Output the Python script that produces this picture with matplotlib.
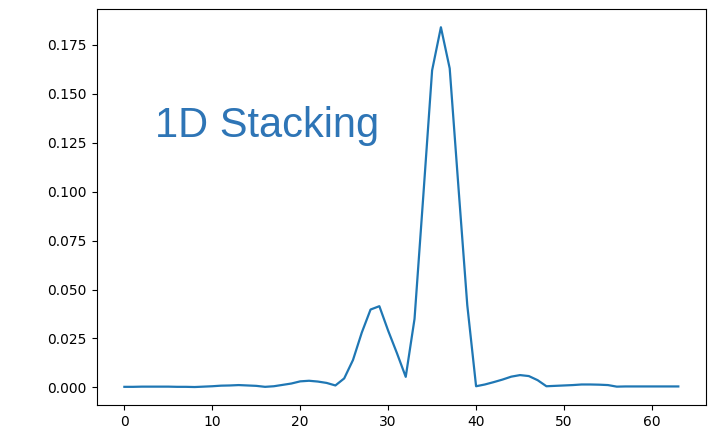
import numpy as np
import matplotlib.pyplot as plt

# signal, one value per index 0..63
x = np.arange(64)
y = [0.0003, 0.0003, 0.0004, 0.0004, 0.0004, 0.0004, 0.0003, 0.0003,
     0.0002, 0.0004, 0.0006, 0.0009, 0.0010, 0.0012, 0.0010, 0.0008,
     0.0003, 0.0006, 0.0013, 0.0020, 0.0031, 0.0034, 0.0030, 0.0023,
     0.0010, 0.0046, 0.0140, 0.0280, 0.0398, 0.0415, 0.0290, 0.0175,
     0.0054, 0.0350, 0.0980, 0.1620, 0.1840, 0.1630, 0.1020, 0.0420,
     0.0006, 0.0015, 0.0027, 0.0040, 0.0055, 0.0063, 0.0058, 0.0037,
     0.0006, 0.0008, 0.0010, 0.0012, 0.0015, 0.0015, 0.0014, 0.0012,
     0.0004, 0.0005, 0.0005, 0.0005, 0.0005, 0.0005, 0.0005, 0.0005]
label = "1D Stacking"

fig = plt.figure(figsize=(7.14, 4.38), dpi=100)
ax = fig.add_axes([0.1354, 0.0753, 0.8534, 0.9035])
ax.plot(x, y, color='tab:blue', linewidth=1.6)

# big blue caption pasted onto the plot
fig.text(155 / 714, 1 - 136.7 / 438, label, fontsize=30, color='#2E75B6',
         family='Liberation Sans', va='baseline', ha='left')

fig.savefig('out.png', dpi=100)
